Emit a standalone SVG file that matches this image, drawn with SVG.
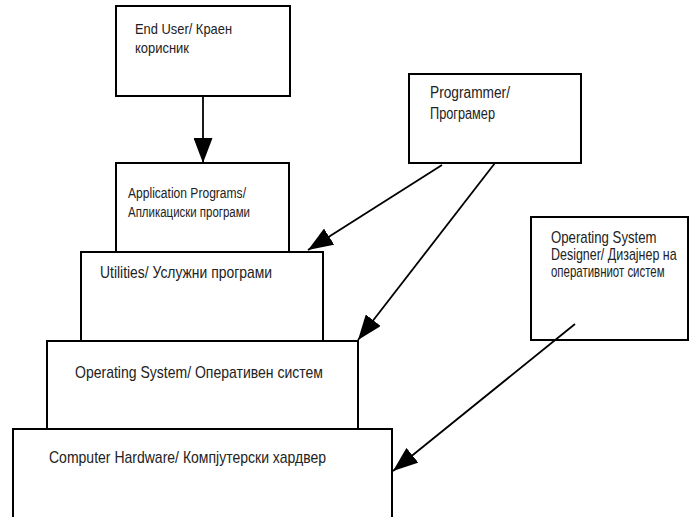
<svg xmlns="http://www.w3.org/2000/svg" width="691" height="517" viewBox="0 0 691 517">
<style>
  .box{fill:#fff;stroke:#000;stroke-width:2}
  .t{font-family:"Liberation Sans",Arial,sans-serif;fill:#222}
  .c{stroke:#000;stroke-width:1.8;fill:none;marker-end:url(#ah)}
</style>
<defs>
  <marker id="ah" viewBox="0 0 10 10" refX="10" refY="5" markerUnits="userSpaceOnUse" markerWidth="25" markerHeight="19" orient="auto" preserveAspectRatio="none">
    <path d="M0,0 L10,5 L0,10 z" fill="#000"/>
  </marker>
</defs>
<rect width="691" height="517" fill="#fff"/>
<g id="hardware">
  <rect class="box" x="13" y="429" width="379" height="100"/>
  <text class="t" x="49" y="463" font-size="17" textLength="277" lengthAdjust="spacingAndGlyphs">Computer Hardware/ Компјутерски хардвер</text>
</g>
<g id="os">
  <rect class="box" x="47" y="341" width="311" height="88"/>
  <text class="t" x="75" y="378" font-size="17" textLength="248" lengthAdjust="spacingAndGlyphs">Operating System/ Оперативен систем</text>
</g>
<g id="utilities">
  <rect class="box" x="81" y="252" width="242" height="89"/>
  <text class="t" x="100" y="278" font-size="17" textLength="172" lengthAdjust="spacingAndGlyphs">Utilities/ Услужни програми</text>
</g>
<g id="applications">
  <rect class="box" x="116" y="163" width="173" height="89"/>
  <text class="t" x="128" y="198" font-size="14" textLength="118" lengthAdjust="spacingAndGlyphs">Application Programs/</text>
  <text class="t" x="128" y="217" font-size="14" textLength="122" lengthAdjust="spacingAndGlyphs">Апликациски програми</text>
</g>
<g id="enduser">
  <rect class="box" x="116" y="6" width="174" height="90"/>
  <text class="t" x="135" y="34" font-size="14.5" textLength="97" lengthAdjust="spacingAndGlyphs">End User/ Краен</text>
  <text class="t" x="135" y="53" font-size="14.5" textLength="54" lengthAdjust="spacingAndGlyphs">корисник</text>
</g>
<g id="programmer">
  <rect class="box" x="409" y="74" width="172" height="89"/>
  <text class="t" x="430" y="98" font-size="16" textLength="80" lengthAdjust="spacingAndGlyphs">Programmer/</text>
  <text class="t" x="430" y="119" font-size="16" textLength="65" lengthAdjust="spacingAndGlyphs">Програмер</text>
</g>
<g id="osdesigner">
  <rect class="box" x="531" y="217" width="157" height="123"/>
  <g transform="translate(551,0) scale(0.8,1)">
    <text class="t" x="0" y="243" font-size="16" textLength="132" lengthAdjust="spacingAndGlyphs">Operating System</text>
    <text class="t" x="0" y="260" font-size="16" textLength="157" lengthAdjust="spacingAndGlyphs">Designer/ Дизајнер на</text>
    <text class="t" x="0" y="277" font-size="16" textLength="142" lengthAdjust="spacingAndGlyphs">оперативниот систем</text>
  </g>
</g>
<g id="connectors">
  <line class="c" x1="203" y1="96" x2="203" y2="163"/>
  <line class="c" x1="442" y1="165" x2="308" y2="250"/>
  <line class="c" x1="495" y1="163" x2="358" y2="340"/>
  <line class="c" x1="575" y1="324" x2="393" y2="471"/>
</g>
</svg>
